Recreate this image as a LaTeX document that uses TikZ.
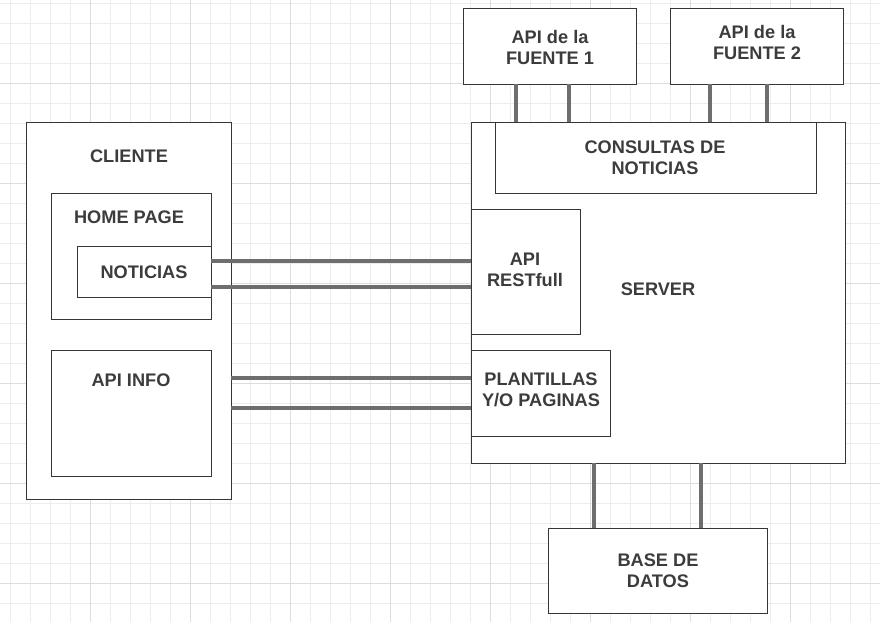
\documentclass[tikz,border=0pt]{standalone}
\usepackage{fontspec}
\setmainfont{Liberation Sans}
\usetikzlibrary{calc}
\definecolor{gridminor}{HTML}{EDEDED}
\definecolor{gridmajor}{HTML}{DDDDDD}
\definecolor{boxline}{HTML}{363636}
\definecolor{txt}{HTML}{3C3C3C}
\definecolor{conncol}{HTML}{6E6E6E}
\tikzset{
  box/.style={draw=boxline, line width=1pt, fill=white, rectangle, inner sep=0pt, outer sep=0pt, anchor=north west, align=center, text=txt, font=\fontsize{18.2}{21}\selectfont\bfseries},
  lbl/.style={text=txt, font=\fontsize{18.2}{21}\selectfont\bfseries, inner sep=0pt, align=center},
  conn/.style={draw=conncol, line width=4pt}
}
\begin{document}
\begin{tikzpicture}[x=1pt,y=-1pt]
\useasboundingbox (0,0) rectangle (880,622);
\fill[white] (0,0) rectangle (880,622);
% grid
\foreach \gx in {10,30,...,870} \draw[gridminor, line width=1pt] (\gx,0) -- (\gx,622);
\foreach \gy in {3.3,23.3,...,620} \draw[gridminor, line width=1pt] (0,\gy) -- (880,\gy);
\foreach \gx in {90,190,...,870} \draw[gridmajor, line width=1pt] (\gx,0) -- (\gx,622);
\foreach \gy in {83.3,183.3,...,620} \draw[gridmajor, line width=1pt] (0,\gy) -- (880,\gy);

% client side
\node[box, minimum width=205, minimum height=377] (cli) at (26,122) {};
\node[lbl] (clil) at (129,156.5) {CLIENTE};
\node[box, minimum width=160, minimum height=126] (home) at (51,193) {};
\node[lbl] (homel) at (129,217.5) {HOME PAGE};
\node[box, minimum width=134, minimum height=51] (noti) at (77,246) {};
\node[lbl] (notil) at (144,272) {NOTICIAS};
\node[box, minimum width=160, minimum height=126] (info) at (51,350) {};
\node[lbl] (infol) at (131,380.5) {API INFO};

% server side
\node[box, minimum width=374, minimum height=341] (srv) at (471,122) {};
\node[lbl] (srvl) at (658,289.5) {SERVER};
\node[box, minimum width=321, minimum height=71] (cons) at (495,122) {};
\node[lbl] (consl) at (655,158) {CONSULTAS DE\\NOTICIAS};
\node[box, minimum width=109, minimum height=125] (rest) at (471,209) {};
\node[lbl] (restl) at (525,270) {API\\RESTfull};
\node[box, minimum width=139, minimum height=86] (plan) at (471,350) {};
\node[lbl] (planl) at (541,390) {PLANTILLAS\\Y/O PAGINAS};

% external
\node[box, minimum width=173, minimum height=76] (f1) at (463,8) {};
\node[lbl] (f1l) at (550,47) {API de la\\FUENTE 1};
\node[box, minimum width=173, minimum height=76] (f2) at (670,8) {};
\node[lbl] (f2l) at (757,42) {API de la\\FUENTE 2};
\node[box, minimum width=219, minimum height=85] (db) at (548,528) {};
\node[lbl] (dbl) at (658,571) {BASE DE\\DATOS};

% connectors
\draw[conn] ([xshift=53pt]f1.south west) -- ([xshift=53pt]f1.south west |- srv.north);
\draw[conn] ([xshift=106pt]f1.south west) -- ([xshift=106pt]f1.south west |- srv.north);
\draw[conn] ([xshift=40pt]f2.south west) -- ([xshift=40pt]f2.south west |- srv.north);
\draw[conn] ([xshift=97pt]f2.south west) -- ([xshift=97pt]f2.south west |- srv.north);
\draw[conn] ([xshift=123pt]srv.south west) -- ([xshift=123pt]srv.south west |- db.north);
\draw[conn] ([xshift=230pt]srv.south west) -- ([xshift=230pt]srv.south west |- db.north);
\draw[conn] ([yshift=-15pt]noti.north east) -- ([yshift=-15pt]noti.north east -| rest.west);
\draw[conn] ([yshift=-41pt]noti.north east) -- ([yshift=-41pt]noti.north east -| rest.west);
\draw[conn] ([yshift=-28pt]info.north -| cli.east) -- ([yshift=-28pt]plan.north west);
\draw[conn] ([yshift=-58pt]info.north -| cli.east) -- ([yshift=-58pt]plan.north west);
\end{tikzpicture}
\end{document}
